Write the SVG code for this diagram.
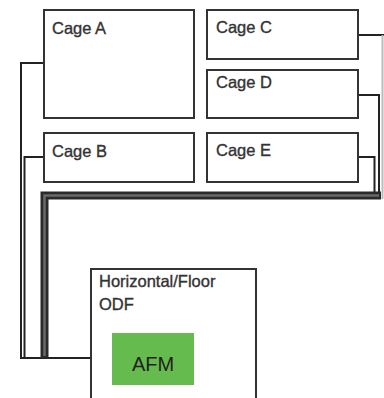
<svg xmlns="http://www.w3.org/2000/svg" width="384" height="398" viewBox="0 0 384 398">
<style>
.box{fill:#fff;stroke:#333;stroke-width:2}
.lbl{font-family:"Liberation Sans",Arial,sans-serif;font-size:16.5px;fill:#333;stroke:#333;stroke-width:0.35}
.w{fill:none;stroke:#222;stroke-width:2}
</style>
<rect width="384" height="398" fill="#fff"/>
<g id="connectors">
<path class="w" d="M44 63 H21 V358 H112"/>
<path class="w" d="M44 157 H24.5 V358"/>
<path class="w" d="M358 157 H374.5 V192"/>
<path class="w" d="M358 95 H379 V196"/>
<path class="w" d="M358 35 H384"/>
<path d="M382.5 35 V199" fill="none" stroke="#bbb" stroke-width="2"/>
<path d="M381 195.5 H44.5 V358" fill="none" stroke="#2a2a2a" stroke-width="8"/>
<path d="M379 195.5 H44.5 V356" fill="none" stroke="#6a6a6a" stroke-width="2.5"/>
</g>
<g id="cageA"><rect class="box" x="44" y="10" width="150" height="108"/><text class="lbl" x="52" y="34">Cage A</text></g>
<g id="cageB"><rect class="box" x="44" y="133" width="150" height="49"/><text class="lbl" x="52" y="157">Cage B</text></g>
<g id="cageC"><rect class="box" x="207" y="10" width="151" height="49"/><text class="lbl" x="216" y="33">Cage C</text></g>
<g id="cageD"><rect class="box" x="207" y="70" width="151" height="48"/><text class="lbl" x="216" y="88">Cage D</text></g>
<g id="cageE"><rect class="box" x="207" y="133" width="151" height="49"/><text class="lbl" x="216" y="156">Cage E</text></g>
<g id="odf"><path d="M91 400 V269 H256 V400" fill="#fff" stroke="#333" stroke-width="2"/>
<text class="lbl" x="99" y="287" style="font-size:16.5px">Horizontal/Floor</text>
<text class="lbl" x="99" y="310" style="font-size:16.5px">ODF</text></g>
<g id="afm"><rect x="112" y="333" width="82" height="52" fill="#66bb4f"/><text x="153" y="371" text-anchor="middle" font-family="Liberation Sans,Arial,sans-serif" font-size="20" fill="#222">AFM</text></g>
</svg>
